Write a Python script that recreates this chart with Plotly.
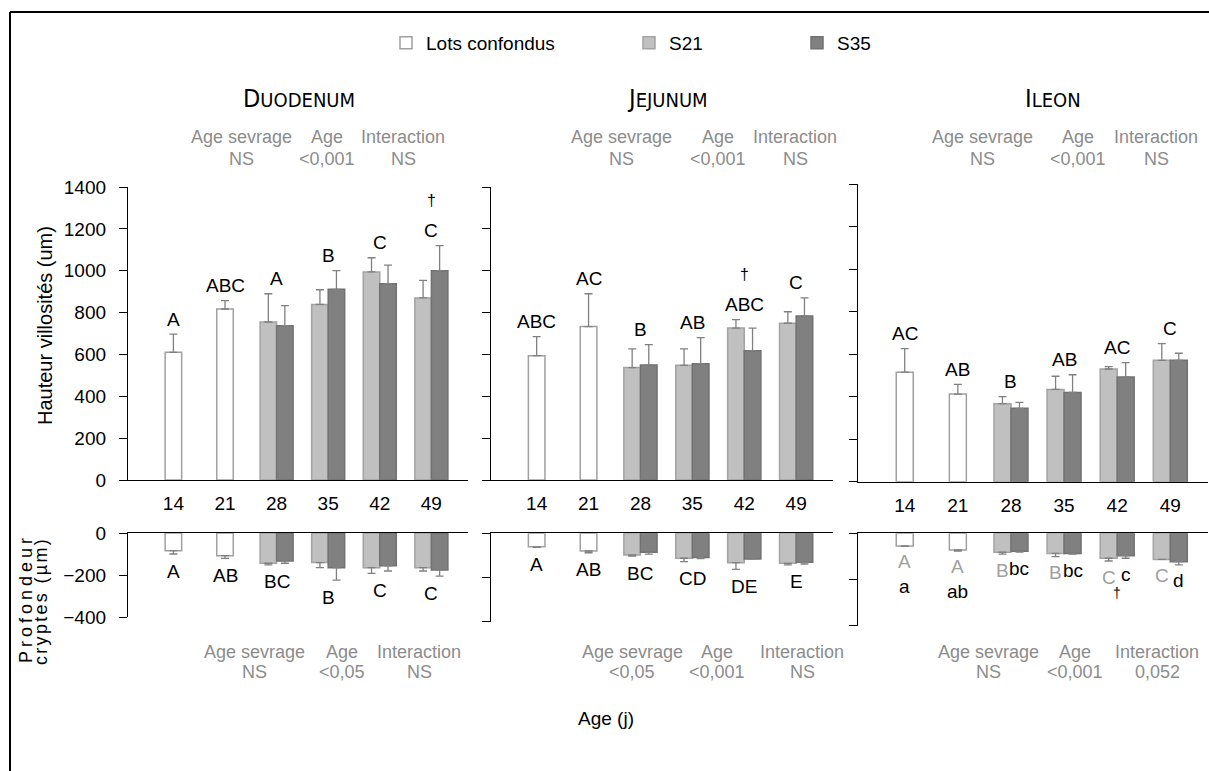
import plotly.graph_objects as go

# ---------------- data ----------------
ages = ["14", "21", "28", "35", "42", "49"]
segments = ["Duodenum", "Jejunum", "Ileon"]
series_names = ["Lots confondus", "S21", "S35"]

# Hauteur villosités (µm) – mean and SEM (upper error)
duo_lc = [610, 817, None, None, None, None]
duo_lc_err = [87, 40, 0, 0, 0, 0]
duo_s21 = [None, None, 755, 839, 994, 870]
duo_s21_err = [0, 0, 135, 70, 68, 84]
duo_s35 = [None, None, 737, 911, 938, 1000]
duo_s35_err = [0, 0, 96, 89, 89, 120]

jej_lc = [594, 733, None, None, None, None]
jej_lc_err = [91, 157, 0, 0, 0, 0]
jej_s21 = [None, None, 537, 548, 726, 749]
jej_s21_err = [0, 0, 90, 79, 40, 55]
jej_s35 = [None, None, 549, 556, 618, 784]
jej_s35_err = [0, 0, 98, 124, 108, 86]

ile_lc = [515, 412, None, None, None, None]
ile_lc_err = [111, 46, 0, 0, 0, 0]
ile_s21 = [None, None, 367, 434, 530, 571]
ile_s21_err = [0, 0, 33, 62, 11, 78]
ile_s35 = [None, None, 345, 420, 492, 571]
ile_s35_err = [0, 0, 28, 83, 68, 33]

# Profondeur cryptes (µm), drawn downward – mean and SEM (lower error)
duo_lc_c = [-84, -108, None, None, None, None]
duo_lc_c_err = [16, 13, 0, 0, 0, 0]
duo_s21_c = [None, None, -144, -141, -165, -165]
duo_s21_c_err = [0, 0, 8, 24, 27, 16]
duo_s35_c = [None, None, -133, -165, -156, -176]
duo_s35_c_err = [0, 0, 11, 59, 25, 29]

jej_lc_c = [-61, -80, None, None, None, None]
jej_lc_c_err = [3, 8, 0, 0, 0, 0]
jej_s21_c = [None, None, -98, -113, -133, -136]
jej_s21_c_err = [0, 0, 5, 15, 30, 7]
jej_s35_c = [None, None, -86, -110, -116, -131]
jej_s35_c_err = [0, 0, 8, 5, 0, 8]

ile_lc_c = [-55, -72, None, None, None, None]
ile_lc_c_err = [2, 5, 0, 0, 0, 0]
ile_s21_c = [None, None, -82, -87, -108, -113]
ile_s21_c_err = [0, 0, 8, 14, 12, 0]
ile_s35_c = [None, None, -78, -87, -97, -123]
ile_s35_c_err = [0, 0, 3, 3, 11, 14]

# significance letters
duo_letters = ["A", "ABC", "A", "B", "C", "C"]
jej_letters = ["ABC", "AC", "B", "AB", "ABC", "C"]
ile_letters = ["AC", "AB", "B", "AB", "AC", "C"]
duo_c_letters = ["A", "AB", "BC", "B", "C", "C"]
jej_c_letters = ["A", "AB", "BC", "CD", "DE", "E"]
ile_c_letters_s21 = ["A", "A", "B", "B", "C", "C"]
ile_c_letters_s35 = ["a", "ab", "bc", "bc", "c", "d"]
# ages carrying a dagger (tendency)
duo_dagger = ["49"]
jej_dagger = ["42"]
ile_dagger = []
ile_c_dagger = ["42"]

stat_names = ["Age sevrage", "Age", "Interaction"]
duo_stats = ["NS", "<0,001", "NS"]
jej_stats = ["NS", "<0,001", "NS"]
ile_stats = ["NS", "<0,001", "NS"]
duo_c_stats = ["NS", "<0,05", "NS"]
jej_c_stats = ["<0,05", "<0,001", "NS"]
ile_c_stats = ["NS", "<0,001", "0,052"]

villi_ticks = [0, 200, 400, 600, 800, 1000, 1200, 1400]
crypt_ticks = [-400, -200, 0]

# ---------------- layout helpers ----------------
W, H = 1209, 771
FONT = "Liberation Sans, Arial, sans-serif"
NARROW = "Liberation Sans Narrow, Arial Narrow, DejaVu Sans Condensed, sans-serif"
GREY_TXT = "#8c8c8c"


def xp(p):
    return p / W


def yp(p):
    return 1 - p / H


BW = 0.32
styles = [
    dict(fill="white", line="#a0a0a0", offset=-BW / 2),
    dict(fill="#c0c0c0", line="#a3a3a3", offset=-BW),
    dict(fill="#808080", line="#727272", offset=0.0),
]

panels = [
    dict(x0=128, x1=468, top=(480, 187), bot=(533, 617), title_x=299,
         stat_x=[241, 327, 403], cstat_x=[254, 342, 419]),
    dict(x0=491, x1=833, top=(480, 187), bot=(533.3, 621.7), title_x=667,
         stat_x=[621, 718, 795], cstat_x=[632, 717, 802]),
    dict(x0=858, x1=1208, top=(481.7, 184), bot=(533.3, 625.7), title_x=1053,
         stat_x=[982, 1078, 1156], cstat_x=[988, 1075, 1157]),
]

villi = [
    [(duo_lc, duo_lc_err), (duo_s21, duo_s21_err), (duo_s35, duo_s35_err)],
    [(jej_lc, jej_lc_err), (jej_s21, jej_s21_err), (jej_s35, jej_s35_err)],
    [(ile_lc, ile_lc_err), (ile_s21, ile_s21_err), (ile_s35, ile_s35_err)],
]
crypts = [
    [(duo_lc_c, duo_lc_c_err), (duo_s21_c, duo_s21_c_err), (duo_s35_c, duo_s35_c_err)],
    [(jej_lc_c, jej_lc_c_err), (jej_s21_c, jej_s21_c_err), (jej_s35_c, jej_s35_c_err)],
    [(ile_lc_c, ile_lc_c_err), (ile_s21_c, ile_s21_c_err), (ile_s35_c, ile_s35_c_err)],
]
letters = [duo_letters, jej_letters, ile_letters]
c_letters = [duo_c_letters, jej_c_letters, None]
daggers = [duo_dagger, jej_dagger, ile_dagger]
stats = [duo_stats, jej_stats, ile_stats]
c_stats = [duo_c_stats, jej_c_stats, ile_c_stats]

legend_ids = ["legend", "legend2", "legend3"]

fig = go.Figure()
annotations = []
layout = {}
XR = [-0.88, 5.71]

for i, seg in enumerate(segments):
    P = panels[i]
    nt, nb = i + 1, i + 4
    xt = "x" if nt == 1 else f"x{nt}"
    yt = "y" if nt == 1 else f"y{nt}"
    xb, yb = f"x{nb}", f"y{nb}"

    for s, ((vals, errs), st) in enumerate(zip(villi[i], styles)):
        fig.add_trace(go.Bar(
            x=ages, y=vals, width=BW, offset=st["offset"], name=series_names[s],
            marker=dict(color=st["fill"], line=dict(color=st["line"], width=1.5)),
            error_y=dict(type="data", symmetric=False, array=errs, arrayminus=[0] * 6,
                         color="#808080", thickness=1.3, width=4),
            xaxis=xt, yaxis=yt, showlegend=(i == 0), legend=legend_ids[s],
            hoverinfo="skip"))
    for s, ((vals, errs), st) in enumerate(zip(crypts[i], styles)):
        fig.add_trace(go.Bar(
            x=ages, y=vals, width=BW, offset=st["offset"], name=series_names[s],
            marker=dict(color=st["fill"], line=dict(color=st["line"], width=1.5)),
            error_y=dict(type="data", symmetric=False, array=[0] * 6, arrayminus=errs,
                         color="#808080", thickness=1.3, width=4),
            xaxis=xb, yaxis=yb, showlegend=False, hoverinfo="skip"))

    xdom = [xp(P["x0"]), xp(P["x1"])]
    common_x = dict(type="category", range=XR, domain=xdom, showline=True,
                    linecolor="black", linewidth=1.3, showgrid=False, zeroline=False,
                    fixedrange=True, automargin=False)
    layout["xaxis" if nt == 1 else f"xaxis{nt}"] = dict(
        common_x, anchor=yt, side="bottom", ticks="outside", ticklen=6,
        tickcolor="rgba(0,0,0,0)", tickfont=dict(size=19, color="black", family=FONT))
    layout[f"xaxis{nb}"] = dict(common_x, anchor=yb, side="top", ticks="",
                                showticklabels=False)
    common_y = dict(showline=True, linecolor="black", linewidth=1.3, ticks="outside",
                    ticklen=8, tickcolor="black", tickwidth=1.2, showgrid=False,
                    zeroline=False, fixedrange=True, anchor=xt, automargin=False,
                    showticklabels=(i == 0), ticklabelstandoff=9,
                    tickfont=dict(size=19, color="black", family=FONT))
    layout["yaxis" if nt == 1 else f"yaxis{nt}"] = dict(
        common_y, domain=[yp(P["top"][0]), yp(P["top"][1])], range=[0, 1400],
        tickvals=villi_ticks)
    layout[f"yaxis{nb}"] = dict(
        common_y, anchor=xb, domain=[yp(P["bot"][1]), yp(P["bot"][0])],
        range=[-400, 0], tickvals=crypt_ticks)

    # letters above villi bars
    for k, age in enumerate(ages):
        tops = [v + e for (vals, errs) in villi[i] for v, e in [(vals[k], errs[k])] if v is not None]
        y = max(tops)
        annotations.append(dict(x=k, y=y, xref=xt, yref=yt, text=letters[i][k],
                                showarrow=False, yanchor="middle", yshift=15,
                                font=dict(size=19, color="black", family=FONT)))
        if age in daggers[i]:
            annotations.append(dict(x=k, y=y, xref=xt, yref=yt, text="†",
                                    showarrow=False, yanchor="middle", yshift=45,
                                    font=dict(size=16, color="black", family=FONT)))
    # letters below crypt bars
    for k, age in enumerate(ages):
        if c_letters[i] is not None:
            bots = [v - e for (vals, errs) in crypts[i] for v, e in [(vals[k], errs[k])] if v is not None]
            annotations.append(dict(x=k, y=min(bots), xref=xb, yref=yb, text=c_letters[i][k],
                                    showarrow=False, yanchor="middle", yshift=-17,
                                    font=dict(size=19, color="black", family=FONT)))
        else:
            (lv, le), (sv, se), (tv, te) = [(vals[k], errs[k]) for (vals, errs) in crypts[i]]
            if lv is not None:
                annotations.append(dict(x=k, y=lv - le, xref=xb, yref=yb,
                                        text=ile_c_letters_s21[k], showarrow=False,
                                        yanchor="middle", yshift=-15,
                                        font=dict(size=19, color="#a0a0a0", family=FONT)))
                annotations.append(dict(x=k, y=lv - le, xref=xb, yref=yb,
                                        text=ile_c_letters_s35[k], showarrow=False,
                                        yanchor="middle", yshift=-40,
                                        font=dict(size=19, color="black", family=FONT)))
            else:
                annotations.append(dict(x=k - BW / 2, y=sv - se, xref=xb, yref=yb,
                                        text=ile_c_letters_s21[k], showarrow=False,
                                        yanchor="middle", yshift=-16,
                                        font=dict(size=19, color="#a0a0a0", family=FONT)))
                annotations.append(dict(x=k + BW / 2, y=tv - te, xref=xb, yref=yb,
                                        text=ile_c_letters_s35[k], showarrow=False,
                                        yanchor="middle", yshift=-16,
                                        font=dict(size=19, color="black", family=FONT)))
                if age in ile_c_dagger:
                    annotations.append(dict(x=k, y=min(sv - se, tv - te), xref=xb, yref=yb,
                                            text="†", showarrow=False, yanchor="middle",
                                            yshift=-32,
                                            font=dict(size=14, color="#000000", family=FONT)))

    # segment title (small caps)
    name = seg.upper()
    annotations.append(dict(
        x=xp(P["title_x"]), y=yp(98), xref="paper", yref="paper", showarrow=False,
        xanchor="center", yanchor="middle",
        text=f"<span style='font-size:25px'>{name[0]}</span>{name[1:]}",
        font=dict(size=20, color="black", family=NARROW)))

    # statistics
    for j in range(3):
        for row_y, txt in ((137, stat_names[j]), (159, stats[i][j])):
            annotations.append(dict(x=xp(P["stat_x"][j]), y=yp(row_y), xref="paper",
                                    yref="paper", text=txt, showarrow=False,
                                    xanchor="center", yanchor="middle",
                                    font=dict(size=18, color=GREY_TXT, family=FONT)))
        for row_y, txt in ((652, stat_names[j]), (672, c_stats[i][j])):
            annotations.append(dict(x=xp(P["cstat_x"][j]), y=yp(row_y), xref="paper",
                                    yref="paper", text=txt, showarrow=False,
                                    xanchor="center", yanchor="middle",
                                    font=dict(size=18, color=GREY_TXT, family=FONT)))

# axis titles
annotations.append(dict(x=xp(45), y=yp(326), xref="paper", yref="paper",
                        text="Hauteur villosités (um)", textangle=-90, showarrow=False,
                        xanchor="center", yanchor="middle",
                        font=dict(size=20, color="black", family=FONT)))
annotations.append(dict(x=xp(26), y=yp(599), xref="paper", yref="paper",
                        text="<span style='letter-spacing:4px'>Profondeur</span>",
                        textangle=-90, showarrow=False, xanchor="center", yanchor="middle",
                        font=dict(size=18, color="black", family=FONT)))
annotations.append(dict(x=xp(41), y=yp(601), xref="paper", yref="paper",
                        text="<span style='letter-spacing:2.3px'>cryptes (µm)</span>",
                        textangle=-90, showarrow=False, xanchor="center", yanchor="middle",
                        font=dict(size=18, color="black", family=FONT)))
annotations.append(dict(x=xp(606), y=yp(718), xref="paper", yref="paper",
                        text="Age (j)", showarrow=False, xanchor="center", yanchor="middle",
                        font=dict(size=19, color="black", family=FONT)))

legend_common = dict(orientation="h", yanchor="middle", y=yp(43), xanchor="left",
                     bgcolor="rgba(0,0,0,0)", borderwidth=0,
                     font=dict(size=19, color="black", family=FONT))
layout["legend"] = dict(legend_common, x=xp(386))
layout["legend2"] = dict(legend_common, x=xp(629))
layout["legend3"] = dict(legend_common, x=xp(797))

shapes = [
    dict(type="line", xref="paper", yref="paper", x0=xp(10), x1=xp(10), y0=0, y1=yp(12),
         line=dict(color="black", width=2)),
    dict(type="line", xref="paper", yref="paper", x0=xp(10), x1=1.0, y0=yp(12), y1=yp(12),
         line=dict(color="black", width=2)),
]

fig.update_layout(
    width=W, height=H, margin=dict(l=0, r=0, t=0, b=0, autoexpand=False),
    paper_bgcolor="white", plot_bgcolor="white", barmode="overlay",
    font=dict(family=FONT, size=18, color="black"),
    annotations=annotations, shapes=shapes, showlegend=True, **layout)

# pin the figure to the page's top-left corner (no default body margin)
pin = ("document.documentElement.style.margin='0';document.body.style.margin='0';"
       "document.documentElement.style.overflow='hidden';"
       "var d=document.getElementById('{plot_id}');d.style.position='absolute';"
       "d.style.left='0px';d.style.top='0px';")
fig.write_html("out.html", post_script=pin, config={"displayModeBar": False})
